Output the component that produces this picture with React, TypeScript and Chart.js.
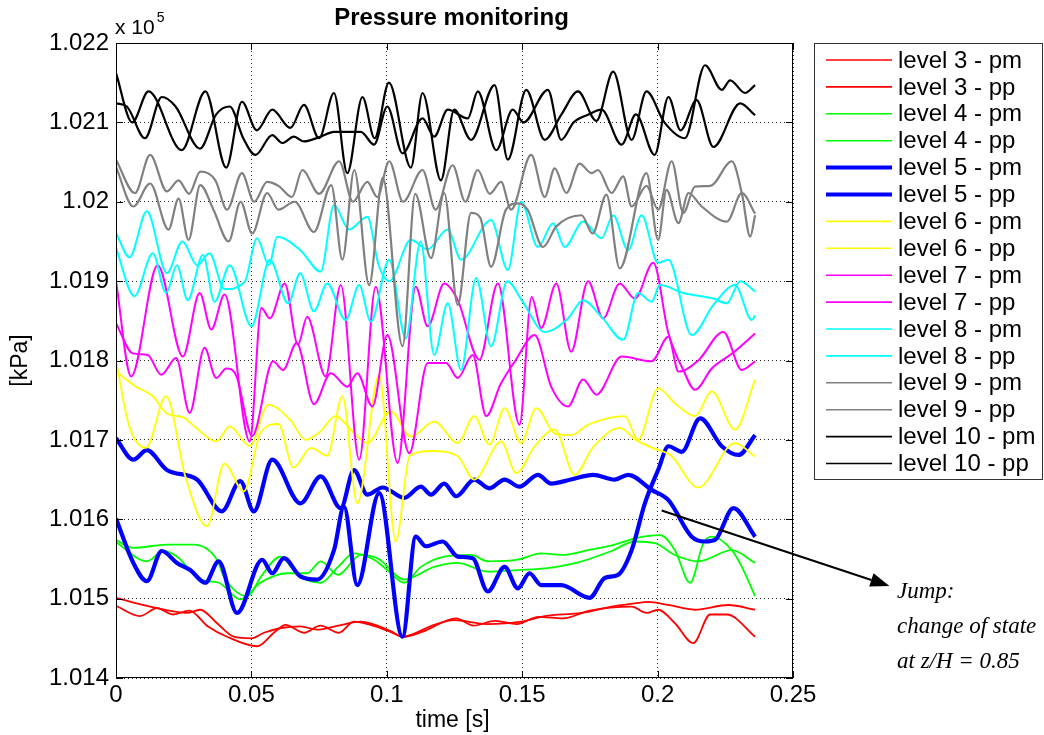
import React, { useEffect, useRef } from "react";
import { Chart, registerables } from "chart.js";

Chart.register(...registerables);

type Pt = [number, number];

// ---- data: [time (s), pressure (x 1e5)] ----
const level3pm: Pt[] = [[0,1.01501],[0.0126,1.0149],[0.0262,1.01482],[0.0311,1.01486],[0.0373,1.01469],[0.0435,1.01452],[0.05,1.0145],[0.0546,1.01457],[0.061,1.01463],[0.0681,1.01465],[0.0743,1.01461],[0.082,1.01466],[0.0904,1.01471],[0.1015,1.01459],[0.1058,1.01452],[0.1175,1.01467],[0.1249,1.01473],[0.137,1.01468],[0.1496,1.01471],[0.1583,1.01478],[0.1719,1.01482],[0.183,1.0149],[0.1916,1.01494],[0.1965,1.01496],[0.204,1.01492],[0.2138,1.01486],[0.2262,1.01492],[0.236,1.01486]];
const level3pp: Pt[] = [[0,1.01491],[0.0089,1.01478],[0.0151,1.01488],[0.021,1.0148],[0.027,1.01485],[0.034,1.01465],[0.041,1.01452],[0.0521,1.0144],[0.0583,1.01457],[0.0626,1.01467],[0.0694,1.01457],[0.0755,1.01466],[0.0823,1.01457],[0.0879,1.01471],[0.094,1.01467],[0.1,1.0146],[0.1064,1.01452],[0.113,1.01458],[0.1256,1.01475],[0.132,1.01466],[0.14,1.01472],[0.148,1.01468],[0.156,1.01477],[0.165,1.01475],[0.175,1.01485],[0.1904,1.0149],[0.1959,1.01482],[0.2002,1.01486],[0.2064,1.01469],[0.2132,1.01444],[0.2194,1.0148],[0.2256,1.0148],[0.236,1.01452]];
const level4pm: Pt[] = [[0,1.01574],[0.0064,1.01564],[0.0188,1.01568],[0.0286,1.01568],[0.0373,1.01549],[0.0398,1.01528],[0.0484,1.01503],[0.054,1.0153],[0.0607,1.01553],[0.067,1.0153],[0.0756,1.0152],[0.082,1.0154],[0.0879,1.01557],[0.0953,1.01549],[0.1002,1.01536],[0.1064,1.0152],[0.1126,1.0154],[0.1212,1.01553],[0.1311,1.01555],[0.1373,1.01547],[0.1484,1.01549],[0.157,1.01557],[0.1644,1.01555],[0.1743,1.01561],[0.1842,1.01568],[0.1916,1.01576],[0.2009,1.0158],[0.2064,1.01561],[0.212,1.0152],[0.2169,1.0157],[0.22,1.01578],[0.2274,1.01561],[0.2311,1.0154],[0.236,1.01503]];
const level4pp: Pt[] = [[0,1.01571],[0.0114,1.01547],[0.0175,1.0156],[0.0225,1.01553],[0.0311,1.01524],[0.038,1.0152],[0.0459,1.01499],[0.0533,1.0152],[0.0632,1.01532],[0.0706,1.01532],[0.0756,1.01547],[0.082,1.0153],[0.0904,1.01555],[0.097,1.0155],[0.1064,1.01524],[0.1175,1.0154],[0.126,1.01545],[0.1373,1.01534],[0.1484,1.01536],[0.1583,1.01538],[0.17,1.01545],[0.183,1.0156],[0.1916,1.01572],[0.199,1.0157],[0.2064,1.01555],[0.2151,1.01547],[0.2274,1.01561],[0.236,1.01545]];
const level5pm: Pt[] = [[0,1.01702],[0.0064,1.01675],[0.0114,1.01687],[0.0188,1.01662],[0.0299,1.0165],[0.0391,1.0161],[0.0459,1.01648],[0.0509,1.0161],[0.0577,1.01675],[0.0681,1.0162],[0.0756,1.01654],[0.083,1.01614],[0.0879,1.01662],[0.0928,1.01631],[0.0985,1.0164],[0.1064,1.01627],[0.1126,1.01641],[0.1163,1.01631],[0.1212,1.01645],[0.1256,1.01629],[0.1323,1.0165],[0.1379,1.01639],[0.1435,1.0165],[0.149,1.01641],[0.1558,1.01656],[0.1607,1.01645],[0.168,1.0165],[0.1762,1.01656],[0.1842,1.0165],[0.1891,1.01656],[0.1978,1.01637],[0.204,1.01624],[0.2126,1.01578],[0.2175,1.01572],[0.2212,1.01574],[0.228,1.01614],[0.236,1.01578]];
const level5pp: Pt[] = [[0,1.01601],[0.0064,1.01545],[0.0114,1.01522],[0.0169,1.0156],[0.0225,1.01545],[0.0274,1.01536],[0.033,1.0152],[0.0379,1.01547],[0.0447,1.01482],[0.054,1.01549],[0.0577,1.01532],[0.062,1.01551],[0.0681,1.01528],[0.0743,1.01524],[0.0805,1.01561],[0.0842,1.01616],[0.0891,1.01517],[0.0972,1.01633],[0.1058,1.01452],[0.1107,1.01578],[0.1144,1.01566],[0.1206,1.01572],[0.1262,1.01553],[0.1317,1.01551],[0.1373,1.01509],[0.1435,1.0154],[0.1484,1.01513],[0.1527,1.01532],[0.157,1.01517],[0.1644,1.01517],[0.1749,1.01501],[0.1805,1.01526],[0.1854,1.0153],[0.1904,1.01561],[0.1953,1.0162],[0.2002,1.01662],[0.204,1.01692],[0.2089,1.01685],[0.2157,1.01727],[0.2237,1.01692],[0.2299,1.01681],[0.236,1.01706]];
const level6pm: Pt[] = [[0,1.01786],[0.0074,1.01767],[0.0136,1.01755],[0.0185,1.01734],[0.025,1.01728],[0.0296,1.01715],[0.037,1.01698],[0.042,1.01717],[0.0494,1.01692],[0.0562,1.01744],[0.0644,1.01725],[0.07,1.017],[0.0756,1.01711],[0.081,1.0173],[0.0875,1.0171],[0.0928,1.01696],[0.1015,1.01736],[0.1089,1.01704],[0.1175,1.01723],[0.1262,1.01696],[0.1323,1.0173],[0.1379,1.01694],[0.1435,1.0174],[0.1496,1.01696],[0.1552,1.0174],[0.162,1.01708],[0.1681,1.01706],[0.1743,1.01719],[0.1879,1.0173],[0.1928,1.017],[0.2002,1.01765],[0.2064,1.01746],[0.2138,1.0173],[0.22,1.01761],[0.2286,1.01713],[0.236,1.01776]];
const level6pp: Pt[] = [[0,1.018],[0.0049,1.01717],[0.0111,1.0169],[0.0185,1.01755],[0.0256,1.01654],[0.0336,1.01591],[0.04,1.0167],[0.0472,1.01635],[0.0535,1.0171],[0.06,1.0172],[0.0655,1.01665],[0.072,1.0169],[0.078,1.0168],[0.0836,1.01755],[0.0891,1.0162],[0.0972,1.01782],[0.1033,1.01572],[0.1085,1.0168],[0.1168,1.01686],[0.126,1.0168],[0.1323,1.0165],[0.1422,1.01698],[0.1478,1.01658],[0.1546,1.01692],[0.162,1.01713],[0.1694,1.01656],[0.176,1.0169],[0.186,1.01715],[0.192,1.017],[0.198,1.0169],[0.205,1.0168],[0.215,1.0164],[0.2286,1.01696],[0.236,1.01679]];
const level7pm: Pt[] = [[0,1.019],[0.0056,1.0178],[0.0154,1.0192],[0.0247,1.01805],[0.0309,1.01885],[0.0352,1.01839],[0.0401,1.01883],[0.0494,1.01698],[0.0537,1.01866],[0.0568,1.01853],[0.0623,1.01897],[0.0672,1.0182],[0.0706,1.01855],[0.0774,1.0178],[0.083,1.01895],[0.0898,1.01675],[0.0959,1.01893],[0.104,1.01671],[0.1107,1.01893],[0.1151,1.01843],[0.1212,1.01897],[0.1262,1.01876],[0.1342,1.01801],[0.141,1.01897],[0.149,1.01719],[0.1535,1.0188],[0.157,1.01841],[0.1626,1.01897],[0.1681,1.01811],[0.1743,1.019],[0.1799,1.01853],[0.186,1.01897],[0.1916,1.01878],[0.1984,1.01923],[0.204,1.01834],[0.2095,1.01788],[0.2138,1.01763],[0.22,1.0179],[0.228,1.0181],[0.236,1.01834]];
const level7pp: Pt[] = [[0,1.01847],[0.0062,1.01809],[0.0117,1.01807],[0.0167,1.01782],[0.0222,1.01803],[0.0272,1.01734],[0.0327,1.01816],[0.037,1.01778],[0.0407,1.0179],[0.0445,1.0178],[0.0503,1.01705],[0.058,1.01799],[0.0617,1.01788],[0.0667,1.01822],[0.0731,1.01745],[0.0793,1.01784],[0.0854,1.01767],[0.0891,1.01784],[0.0947,1.01742],[0.1002,1.01832],[0.1083,1.01683],[0.1151,1.01797],[0.1219,1.01797],[0.1262,1.01778],[0.1317,1.01807],[0.1367,1.0173],[0.142,1.0177],[0.1475,1.018],[0.1546,1.01832],[0.1607,1.01767],[0.1669,1.01742],[0.1725,1.01776],[0.1774,1.01757],[0.1867,1.01805],[0.1978,1.01799],[0.204,1.0183],[0.2077,1.01786],[0.215,1.018],[0.2243,1.01836],[0.2311,1.01788],[0.236,1.01799]];
const level8pm: Pt[] = [[0,1.01961],[0.005,1.0193],[0.0114,1.01988],[0.0188,1.0191],[0.0245,1.0195],[0.03,1.0192],[0.0345,1.01935],[0.04,1.0189],[0.0475,1.01899],[0.0521,1.01954],[0.0565,1.0192],[0.0595,1.01956],[0.0681,1.01939],[0.0756,1.01912],[0.0805,1.01996],[0.086,1.01965],[0.0928,1.01981],[0.097,1.0192],[0.101,1.019],[0.1089,1.01952],[0.115,1.0194],[0.1225,1.01965],[0.1274,1.01927],[0.1385,1.01977],[0.1447,1.01914],[0.1496,1.02],[0.1558,1.01943],[0.1614,1.01973],[0.1657,1.01943],[0.1725,1.01975],[0.1793,1.01954],[0.1836,1.01983],[0.1891,1.01939],[0.1941,1.01983],[0.2002,1.01923],[0.204,1.01927],[0.2126,1.01832],[0.2206,1.0187],[0.2286,1.01895],[0.2348,1.01851],[0.236,1.01857]];
const level8pp: Pt[] = [[0,1.01942],[0.0068,1.01881],[0.0136,1.01935],[0.0185,1.01885],[0.0225,1.0192],[0.0265,1.01876],[0.0321,1.01933],[0.0364,1.01874],[0.042,1.0192],[0.05,1.01843],[0.0568,1.01927],[0.0636,1.01872],[0.068,1.0191],[0.0731,1.01862],[0.078,1.01897],[0.0848,1.01851],[0.0898,1.01895],[0.0941,1.01849],[0.1009,1.01927],[0.107,1.01828],[0.1125,1.0195],[0.1175,1.01807],[0.1225,1.01872],[0.1274,1.01788],[0.133,1.01904],[0.1385,1.01818],[0.1445,1.019],[0.15,1.01875],[0.1583,1.01836],[0.1669,1.01853],[0.1725,1.01876],[0.1793,1.01855],[0.1873,1.01826],[0.1928,1.01885],[0.1978,1.01874],[0.2009,1.01895],[0.2095,1.01885],[0.2206,1.01878],[0.2256,1.01872],[0.2305,1.019],[0.236,1.01887]];
const level9pm: Pt[] = [[0,1.02053],[0.007,1.02011],[0.0126,1.02059],[0.0188,1.02013],[0.0231,1.02027],[0.027,1.0201],[0.0311,1.02038],[0.0367,1.02027],[0.041,1.0199],[0.0465,1.02036],[0.051,1.02],[0.0558,1.02025],[0.06,1.0202],[0.065,1.02006],[0.0688,1.0204],[0.075,1.0201],[0.0824,1.02051],[0.0875,1.02],[0.0928,1.02025],[0.0965,1.02006],[0.1009,1.02051],[0.106,1.02],[0.1132,1.0204],[0.118,1.0199],[0.1243,1.02046],[0.129,1.02],[0.1336,1.0204],[0.138,1.0201],[0.1422,1.02025],[0.1459,1.0199],[0.1533,1.02059],[0.1583,1.02006],[0.162,1.02042],[0.1663,1.02011],[0.1712,1.02048],[0.1756,1.02036],[0.178,1.0204],[0.183,1.02011],[0.1873,1.02032],[0.1904,1.01994],[0.1959,1.0202],[0.2002,1.0199],[0.2052,1.02051],[0.2095,1.01986],[0.2138,1.02019],[0.2195,1.0202],[0.2274,1.02051],[0.2311,1.02011],[0.2342,1.01956],[0.236,1.01983]];
const level9pp: Pt[] = [[0,1.02044],[0.0064,1.01994],[0.0126,1.02023],[0.0194,1.01965],[0.0231,1.02004],[0.0268,1.01952],[0.0311,1.02021],[0.036,1.0199],[0.0416,1.0195],[0.046,1.02],[0.0503,1.0196],[0.0558,1.02011],[0.06,1.0199],[0.066,1.02],[0.0731,1.01962],[0.0795,1.02021],[0.0836,1.01927],[0.088,1.0204],[0.0935,1.01895],[0.0985,1.0203],[0.1058,1.01818],[0.1105,1.0201],[0.1163,1.01929],[0.1212,1.02011],[0.1262,1.0187],[0.1311,1.01986],[0.1345,1.0198],[0.1385,1.01918],[0.144,1.0199],[0.1484,1.01998],[0.152,1.0199],[0.1577,1.01943],[0.1626,1.01969],[0.1719,1.01983],[0.176,1.0196],[0.1811,1.02009],[0.186,1.01916],[0.1959,1.02036],[0.2002,1.01952],[0.2033,1.02015],[0.2077,1.01973],[0.2114,1.02011],[0.2163,1.01994],[0.2256,1.01975],[0.2311,1.02011],[0.236,1.01985]];
const level10pm: Pt[] = [[0,1.02162],[0.006,1.021],[0.012,1.02139],[0.0243,1.02065],[0.033,1.02139],[0.0407,1.02043],[0.0465,1.02126],[0.052,1.0209],[0.0577,1.02116],[0.0644,1.02093],[0.0694,1.02122],[0.075,1.0208],[0.0805,1.02137],[0.0854,1.02036],[0.091,1.02132],[0.0955,1.0208],[0.1008,1.0215],[0.1089,1.02043],[0.1132,1.02137],[0.12,1.02027],[0.1249,1.02116],[0.1311,1.02078],[0.1398,1.02147],[0.1447,1.02053],[0.1515,1.02141],[0.1583,1.02078],[0.1645,1.0211],[0.1706,1.02139],[0.1774,1.02102],[0.1836,1.02164],[0.1904,1.02078],[0.1959,1.02139],[0.2025,1.021],[0.2101,1.0208],[0.2175,1.02172],[0.2237,1.02141],[0.2268,1.02153],[0.2323,1.02137],[0.236,1.02147]];
const level10pp: Pt[] = [[0,1.02124],[0.004,1.0212],[0.0107,1.0208],[0.0169,1.02132],[0.022,1.0212],[0.031,1.02067],[0.037,1.0211],[0.042,1.0212],[0.047,1.0208],[0.0515,1.02059],[0.0577,1.02084],[0.0614,1.02074],[0.0657,1.02082],[0.0694,1.02076],[0.0756,1.02082],[0.0805,1.02088],[0.0904,1.02088],[0.0953,1.02072],[0.1002,1.0212],[0.1058,1.02061],[0.1132,1.02105],[0.1175,1.02082],[0.1225,1.02116],[0.1299,1.02105],[0.1336,1.02139],[0.1404,1.02065],[0.1465,1.02116],[0.1505,1.021],[0.1595,1.02141],[0.1644,1.02078],[0.169,1.021],[0.1745,1.0211],[0.1793,1.02116],[0.1867,1.02072],[0.192,1.0211],[0.1989,1.02059],[0.204,1.02132],[0.2085,1.0209],[0.2144,1.02128],[0.2206,1.02069],[0.2305,1.02124],[0.236,1.02109]];

const allSeries: Pt[][] = [level3pm, level3pp, level4pm, level4pp, level5pm, level5pp, level6pm, level6pp, level7pm, level7pp, level8pm, level8pp, level9pm, level9pp, level10pm, level10pp];
const seriesLabels = ["level 3 - pm", "level 3 - pp", "level 4 - pm", "level 4 - pp", "level 5 - pm", "level 5 - pp", "level 6 - pm", "level 6 - pp", "level 7 - pm", "level 7 - pp", "level 8 - pm", "level 8 - pp", "level 9 - pm", "level 9 - pp", "level 10 - pm", "level 10 - pp"];
const seriesColors = ["#ff0000", "#ff0000", "#00ff00", "#00ff00", "#0000ff", "#0000ff", "#ffff00", "#ffff00", "#ff00ff", "#ff00ff", "#00ffff", "#00ffff", "#808080", "#808080", "#000000", "#000000"];
const seriesWidths = [1.8, 1.8, 1.8, 1.8, 4.2, 4.2, 1.8, 1.8, 2, 2, 2, 2, 2.2, 2.2, 2.2, 2.2];

const xTicks = [0, 0.05, 0.1, 0.15, 0.2, 0.25];
const yTicks = [1.014, 1.015, 1.016, 1.017, 1.018, 1.019, 1.02, 1.021, 1.022];
const chartTitle = "Pressure monitoring";
const yTitle = "[kPa]";
const xTitle = "time [s]";
const exponentText = "x 10";
const exponentPower = "5";
const noteLines = ["Jump:", "change of state", "at z/H = 0.85"];
const arrowFrom: Pt = [0.2015, 1.01611];
const arrowTo: Pt = [0.2856, 1.01516];

const SANS = '"Liberation Sans", Arial, Helvetica, sans-serif';
const SERIF = '"Liberation Serif", "Times New Roman", serif';

const fmt = (v: number) => String(Number(Number(v).toFixed(3)));

export default function App() {
  const ref = useRef<HTMLCanvasElement>(null);

  useEffect(() => {
    document.body.style.margin = "0";
    const canvas = ref.current;
    if (!canvas) return;

    const decor = {
      id: "decor",
      afterDraw(chart: any) {
        const { ctx, chartArea: a, scales } = chart;
        const xs = scales.x;
        const ys = scales.y;
        ctx.save();
        // inner tick marks
        ctx.strokeStyle = "#000";
        ctx.lineWidth = 1;
        ctx.setLineDash([]);
        ctx.beginPath();
        for (const t of xTicks) {
          const px = Math.round(xs.getPixelForValue(t)) + 0.5;
          ctx.moveTo(px, a.bottom); ctx.lineTo(px, a.bottom - 7);
          ctx.moveTo(px, a.top); ctx.lineTo(px, a.top + 7);
        }
        for (const v of yTicks) {
          const py = Math.round(ys.getPixelForValue(v)) + 0.5;
          ctx.moveTo(a.left, py); ctx.lineTo(a.left + 7, py);
          ctx.moveTo(a.right, py); ctx.lineTo(a.right - 7, py);
        }
        ctx.stroke();
        // frame
        ctx.strokeRect(Math.round(a.left) + 0.5, Math.round(a.top) + 0.5, Math.round(a.right - a.left) - 1, Math.round(a.bottom - a.top) - 1);

        // title
        ctx.fillStyle = "#000";
        ctx.font = `bold 24px ${SANS}`;
        ctx.textAlign = "center";
        ctx.textBaseline = "alphabetic";
        ctx.fillText(chartTitle, (a.left + a.right) / 2 - 3, a.top - 18);

        // exponent
        ctx.textAlign = "left";
        ctx.font = `21px ${SANS}`;
        ctx.fillText(exponentText, a.left - 1, a.top - 9);
        const w = ctx.measureText(exponentText).width;
        ctx.font = `14px ${SANS}`;
        ctx.fillText(exponentPower, a.left - 1 + w + 2, a.top - 21);

        // axis titles
        ctx.font = `23px ${SANS}`;
        ctx.textAlign = "center";
        ctx.fillText(xTitle, (a.left + a.right) / 2 - 2, a.bottom + 49);
        ctx.save();
        ctx.translate(27, (a.top + a.bottom) / 2);
        ctx.rotate(-Math.PI / 2);
        ctx.fillText(yTitle, 0, 0);
        ctx.restore();

        // legend
        const lx = a.right + 21;
        const ly = a.top;
        const lw = 229;
        const lh = 437;
        ctx.fillStyle = "#fff";
        ctx.fillRect(lx, ly, lw, lh);
        ctx.strokeStyle = "#333";
        ctx.lineWidth = 1;
        ctx.strokeRect(lx + 0.5, ly + 0.5, lw - 1, lh - 1);
        ctx.font = `24px ${SANS}`;
        ctx.textAlign = "left";
        ctx.textBaseline = "middle";
        seriesLabels.forEach((lab, i) => {
          const yy = ly + 17 + i * 26.9;
          ctx.strokeStyle = seriesColors[i];
          ctx.lineWidth = seriesWidths[i] > 3 ? 4 : 1.6;
          ctx.beginPath();
          ctx.moveTo(lx + 12, yy);
          ctx.lineTo(lx + 78, yy);
          ctx.stroke();
          ctx.fillStyle = "#000";
          ctx.fillText(lab, lx + 84, yy + 1);
        });

        // arrow
        const x0 = xs.getPixelForValue(arrowFrom[0]);
        const y0 = ys.getPixelForValue(arrowFrom[1]);
        const x1 = xs.getPixelForValue(arrowTo[0]);
        const y1 = ys.getPixelForValue(arrowTo[1]);
        const ang = Math.atan2(y1 - y0, x1 - x0);
        const hl = 19, hw = 7;
        const bx = x1 - hl * Math.cos(ang);
        const by = y1 - hl * Math.sin(ang);
        ctx.strokeStyle = "#000";
        ctx.lineWidth = 2;
        ctx.beginPath();
        ctx.moveTo(x0, y0);
        ctx.lineTo(bx, by);
        ctx.stroke();
        ctx.fillStyle = "#000";
        ctx.beginPath();
        ctx.moveTo(x1, y1);
        ctx.lineTo(bx + hw * Math.sin(ang), by - hw * Math.cos(ang));
        ctx.lineTo(bx - hw * Math.sin(ang), by + hw * Math.cos(ang));
        ctx.closePath();
        ctx.fill();

        // note text
        ctx.font = `italic 23px ${SERIF}`;
        ctx.textAlign = "left";
        ctx.textBaseline = "alphabetic";
        const nx = a.right + 104;
        noteLines.forEach((s, i) => {
          ctx.fillText(s, nx, a.bottom - 80 + i * 35);
        });
        ctx.restore();
      },
    };

    const chart = new Chart(canvas, {
      type: "line",
      data: {
        datasets: allSeries.map((s, i) => ({
          label: seriesLabels[i],
          data: s.map(([t, v]) => ({ x: t, y: v })),
          borderColor: seriesColors[i],
          backgroundColor: seriesColors[i],
          borderWidth: seriesWidths[i],
          pointRadius: 0,
          fill: false,
          cubicInterpolationMode: "monotone" as const,
          order: allSeries.length - i,
        })),
      },
      options: {
        animation: false,
        responsive: false,
        maintainAspectRatio: false,
        events: [],
        layout: { padding: { left: 0, right: 251, top: 43, bottom: 0 } },
        plugins: {
          legend: { display: false },
          title: { display: false },
          tooltip: { enabled: false },
        },
        scales: {
          x: {
            type: "linear",
            min: 0,
            max: 0.25,
            afterFit: (s: any) => { s.height = 57; },
            afterBuildTicks: (s: any) => { s.ticks = xTicks.map((v) => ({ value: v })); },
            ticks: {
              color: "#000",
              font: { family: SANS, size: 24 },
              padding: 3,
              maxRotation: 0,
              autoSkip: false,
              callback: (v: any) => fmt(v),
            },
            grid: { color: "rgba(0,0,0,0.85)", lineWidth: 1, drawTicks: false },
            border: { display: false, dash: [1, 3] },
          },
          y: {
            type: "linear",
            min: 1.014,
            max: 1.022,
            afterFit: (s: any) => { s.width = 116; },
            afterBuildTicks: (s: any) => { s.ticks = yTicks.map((v) => ({ value: v })); },
            ticks: {
              color: "#000",
              font: { family: SANS, size: 24 },
              padding: 7,
              autoSkip: false,
              callback: (v: any) => fmt(v),
            },
            grid: { color: "rgba(0,0,0,0.85)", lineWidth: 1, drawTicks: false },
            border: { display: false, dash: [1, 3] },
          },
        },
      },
      plugins: [decor],
    } as any);

    return () => chart.destroy();
  }, []);

  return (
    <div style={{ width: 1044, height: 735, background: "#fff" }}>
      <canvas ref={ref} width={1044} height={735} style={{ display: "block" }} />
    </div>
  );
}
